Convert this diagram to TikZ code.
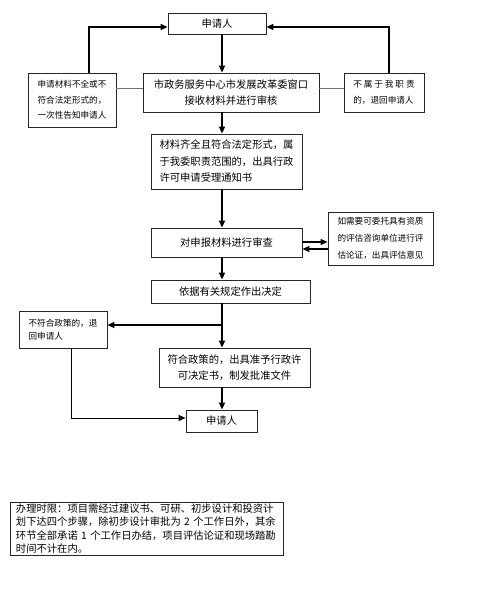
\documentclass[tikz,border=0pt]{standalone}
\usepackage{fontspec}
\newfontfamily\cjk{Noto Sans CJK SC}
\usetikzlibrary{arrows.meta}

\begin{document}
\begin{tikzpicture}[
    x=1pt, y=-1pt,
    every node/.style={font=\cjk\fontsize{10.3}{16.5}\selectfont},
    box/.style={rectangle, draw=black!85, line width=0.8pt, inner sep=0pt, align=center},
    small/.style={box, align=left, font=\cjk\fontsize{8.6}{15.5}\selectfont},
    arrow/.style={->, >={Triangle[length=7pt,width=6pt]}, line width=1.6pt},
    link/.style={draw=black!55, line width=0.8pt},
]
\useasboundingbox (0,0) rectangle (500,609);
\node[box, minimum width=98, minimum height=21] (top) at (217,23.5) {申请人};
\node[box, minimum width=176, minimum height=39] (window) at (231,92.5) {市政务服务中心市发展改革委窗口\\接收材料并进行审核};
\node[small, minimum width=88, minimum height=54] (incomplete) at (72,100) {申请材料不全或不\\符合法定形式的，\\一次性告知申请人};
\node[small, minimum width=80, minimum height=39] (outside) at (384,92.5) {不\ 属\ 于\ 我\ 职\ 责\\的，退回申请人};
\node[box, align=left, minimum width=151, minimum height=55] (accept) at (226.5,161.5) {材料齐全且符合法定形式，属\\于我委职责范围的，出具行政\\许可申请受理通知书};
\node[box, minimum width=151, minimum height=29] (review) at (226.5,242.5) {对申报材料进行审查};
\node[small, minimum width=105, minimum height=53, font=\cjk\fontsize{8.6}{17}\selectfont] (assess) at (380.5,238.5) {如需要可委托具有资质\\的评估咨询单位进行评\\估论证，出具评估意见};
\node[box, minimum width=159, minimum height=23] (decide) at (230.5,291.5) {依据有关规定作出决定};
\node[small, minimum width=88, minimum height=37, font=\cjk\fontsize{8.6}{13}\selectfont] (reject) at (63,329.5) {不符合政策的，退\\回申请人};
\node[box, minimum width=151, minimum height=39] (approve) at (234.5,367.5) {符合政策的，出具准予行政许\\可决定书，制发批准文件};
\node[box, minimum width=71, minimum height=22] (final) at (221.5,421) {申请人};
\node[box, align=left, text width=261, inner xsep=6pt, minimum height=53, font=\cjk\fontsize{10.3}{13.2}\selectfont] (limit) at (146.5,528.5) {办理时限：项目需经过建议书、可研、初步设计和投资计\\划下达四个步骤，除初步设计审批为~2~个工作日外，其余\\环节全部承诺~1~个工作日办结，项目评估论证和现场踏勘\\时间不计在内。};
\coordinate (axis) at (222,0);
\coordinate (branch) at (222,325);
\draw[arrow] (axis |- top.south) -- (axis |- window.north);
\draw[arrow] (axis |- window.south) -- (axis |- accept.north);
\draw[arrow] (axis |- accept.south) -- (axis |- review.north);
\draw[arrow] (axis |- review.south) -- (axis |- decide.north);
\draw[arrow] (axis |- decide.south) -- (axis |- approve.north);
\draw[arrow] (axis |- approve.south) -- (axis |- final.north);
\draw[arrow, line width=1.3pt] ([xshift=17pt]incomplete.north) |- ([yshift=-3.5pt]top.west);
\draw[arrow, line width=1.3pt] ([xshift=5pt]outside.north) |- ([yshift=-3.5pt]top.east);
\draw[link] ([yshift=4.5pt]window.west) -- ([yshift=4.5pt]window.west -| incomplete.east);
\draw[link] ([yshift=4.5pt]window.east) -- ([yshift=4.5pt]window.east -| outside.west);
\draw[arrow, line width=1.2pt] ([yshift=0.5pt]review.east) -- ([yshift=0.5pt]review.east -| assess.west);
\draw[arrow, line width=1.2pt] ([yshift=-6.5pt]review.east -| assess.west) -- ([yshift=-6.5pt]review.east);
\draw[arrow, line width=1.3pt] (branch) -- (branch -| reject.east);
\draw[arrow, line width=1pt] ([xshift=8pt]reject.south) |- ([yshift=3pt]final.west);
\end{tikzpicture}
\end{document}
